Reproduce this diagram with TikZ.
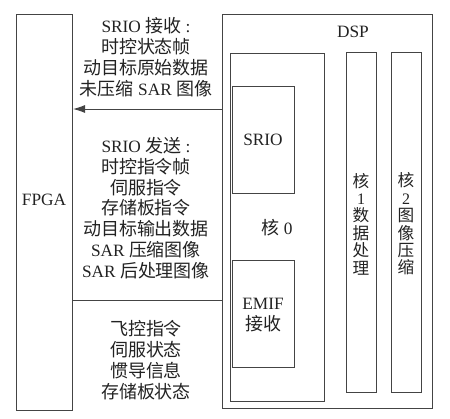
\documentclass[tikz,border=0pt]{standalone}
\usepackage{fontspec}
\setmainfont{Liberation Serif}
\newfontfamily\cjk[Scale=1.04]{Noto Sans CJK SC}
\newcommand\zh[1]{{\cjk #1}}
\usetikzlibrary{arrows.meta}
\definecolor{ln}{HTML}{444444}
\definecolor{tx}{HTML}{222222}
\begin{document}
\begin{tikzpicture}[x=1pt,y=-1pt,
  box/.style={draw=ln,line width=1pt,anchor=north west,inner sep=0pt,minimum width=#1},
  txt/.style={text=tx,align=center,inner sep=0pt,font=\fontsize{17.3}{20.8}\selectfont},
  vtxt/.style={text=tx,align=center,inner sep=0pt,font=\fontsize{16}{17.4}\selectfont},
  conn/.style={draw=ln,line width=1pt}]
\useasboundingbox (0,0) rectangle (450,418);
% boxes
\node[box=56,minimum height=396] (fpga) at (16,14) {};
\node[box=210,minimum height=394] (dsp) at (222,14) {};
\node[box=94,minimum height=348] (core0) at (230,53) {};
\node[box=62,minimum height=107] (srio) at (232,86) {};
\node[box=62,minimum height=107] (emif) at (232,260) {};
\node[box=30,minimum height=340] (core1) at (346,52) {};
\node[box=30,minimum height=340] (core2) at (391,52) {};
% labels
\node[txt] (fpgal) at (44,200) {FPGA};
\node[txt] (dspl) at (353,32) {DSP};
\node[txt] (c0l) at (277,228) {\zh{核} 0};
\node[txt] (sriol) at (263,140) {SRIO};
\node[txt] (emifl) at (263,315) {EMIF\\\zh{接收}};
\node[vtxt] (c1l) at (361,224) {\zh{核}\\1\\\zh{数}\\\zh{据}\\\zh{处}\\\zh{理}};
\node[vtxt] (c2l) at (406,224) {\zh{核}\\2\\\zh{图}\\\zh{像}\\\zh{压}\\\zh{缩}};
% connectors
\coordinate (a1) at (150,109);
\coordinate (a2) at (150,300);
\draw[conn,-{Latex[length=12pt,width=8pt]}] (dsp.west |- a1) -- (fpga.east |- a1);
\draw[conn] (fpga.east |- a2) -- (dsp.west |- a2);
% group texts
\node[txt] (g1) at (146,57) {SRIO \zh{接收} :\\\zh{时控状态帧}\\\zh{动目标原始数据}\\\zh{未压缩} SAR \zh{图像}};
\node[txt] (g2) at (146,208) {SRIO \zh{发送} :\\\zh{时控指令帧}\\\zh{伺服指令}\\\zh{存储板指令}\\\zh{动目标输出数据}\\SAR \zh{压缩图像}\\SAR \zh{后处理图像}};
\node[txt] (g3) at (146,360) {\zh{飞控指令}\\\zh{伺服状态}\\\zh{惯导信息}\\\zh{存储板状态}};
\end{tikzpicture}
\end{document}
